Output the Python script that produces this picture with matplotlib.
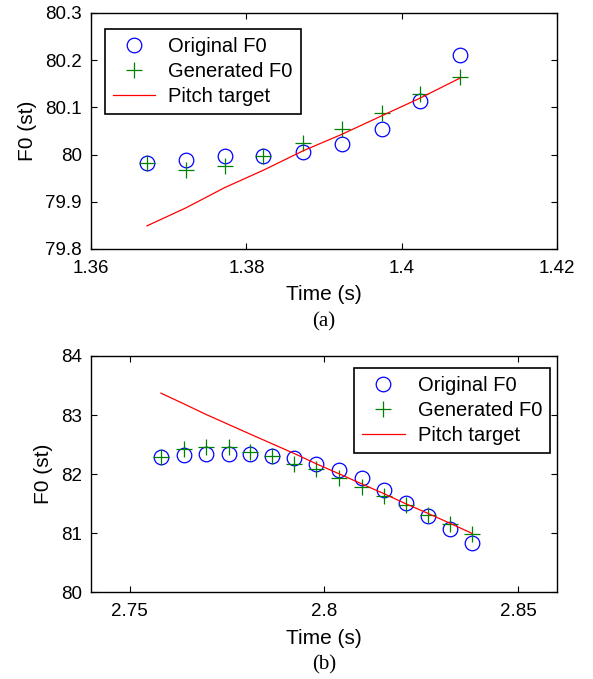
import matplotlib.pyplot as plt

plt.rcParams['font.family'] = ['Liberation Sans', 'DejaVu Sans']

# (a) 上图数据
t_a = [1.3672, 1.3722, 1.3772, 1.3822, 1.3873, 1.3923, 1.3974, 1.4024, 1.4075]
orig_a = [79.982, 79.989, 79.996, 79.996, 80.006, 80.023, 80.054, 80.114, 80.212]
gen_a = [79.983, 79.968, 79.975, 79.997, 80.025, 80.055, 80.088, 80.128, 80.164]
target_a = [79.849, 79.887, 79.930, 79.967, 80.008, 80.043, 80.082, 80.120, 80.162]

# (b) 下图数据
t_b = [2.7580, 2.7639, 2.7695, 2.7755, 2.7809, 2.7866, 2.7923, 2.7980,
       2.8039, 2.8097, 2.8154, 2.8210, 2.8267, 2.8323, 2.8381]
orig_b = [82.289, 82.316, 82.340, 82.340, 82.340, 82.306, 82.272, 82.180,
          82.068, 81.937, 81.733, 81.512, 81.296, 81.064, 80.826]
gen_b = [82.289, 82.418, 82.464, 82.452, 82.374, 82.299, 82.180, 82.085,
         81.942, 81.784, 81.636, 81.478, 81.308, 81.160, 80.990]
target_b = [83.371, 83.190, 83.014, 82.838, 82.680, 82.515, 82.350, 82.175,
            82.005, 81.835, 81.670, 81.500, 81.337, 81.172, 80.997]

fig = plt.figure(figsize=(5.93, 6.79), dpi=100)
ax1 = fig.add_axes([0.1535, 0.6333, 0.786, 0.3476])
ax2 = fig.add_axes([0.1535, 0.1277, 0.786, 0.348])


def draw(ax, t, orig, gen, target):
    ax.plot(t, orig, 'o', mfc='none', mec='#0000ff', ms=10.5, mew=0.9, label='Original F0')
    ax.plot(t, gen, '+', color='#008000', ms=11, mew=0.9, label='Generated F0')
    ax.plot(t, target, '-', color='#ff0000', lw=0.9, label='Pitch target')
    ax.tick_params(direction='in', top=True, right=True, labelsize=13.5, length=4, width=0.8)
    ax.tick_params(axis='x', pad=8)
    ax.tick_params(axis='y', pad=6.5)
    for s in ax.spines.values():
        s.set_linewidth(1.0)
    ax.set_xlabel('Time (s)', fontsize=15, labelpad=6)
    ax.set_ylabel('F0 (st)', fontsize=15, labelpad=6)


def add_legend(ax, **kw):
    leg = ax.legend(fontsize=14.5, fancybox=False, edgecolor='black', framealpha=1,
                    handlelength=2.1, handletextpad=0.65, borderpad=0.4,
                    labelspacing=0.3, borderaxespad=0, **kw)
    leg.get_frame().set_linewidth(1.2)


draw(ax1, t_a, orig_a, gen_a, target_a)
ax1.set_xlim(1.36, 1.42)
ax1.set_ylim(79.8, 80.3)
ax1.set_xticks([1.36, 1.38, 1.4, 1.42])
ax1.set_xticklabels(['1.36', '1.38', '1.4', '1.42'])
ax1.set_yticks([79.8, 79.9, 80, 80.1, 80.2, 80.3])
ax1.set_yticklabels(['79.8', '79.9', '80', '80.1', '80.2', '80.3'])
add_legend(ax1, loc='upper left', bbox_to_anchor=(0.03, 0.932))

draw(ax2, t_b, orig_b, gen_b, target_b)
ax2.set_xlim(2.74, 2.86)
ax2.set_ylim(80, 84)
ax2.set_xticks([2.75, 2.8, 2.85])
ax2.set_xticklabels(['2.75', '2.8', '2.85'])
ax2.set_yticks([80, 81, 82, 83, 84])
add_legend(ax2, loc='upper right', bbox_to_anchor=(0.985, 0.949))

fig.text(0.5465, 1 - 322 / 679, '(a)', ha='center', va='center',
         fontsize=15, family='Liberation Serif')
fig.text(0.5465, 1 - 665 / 679, '(b)', ha='center', va='center',
         fontsize=15, family='Liberation Serif')

fig.savefig('out.png', dpi=100)
